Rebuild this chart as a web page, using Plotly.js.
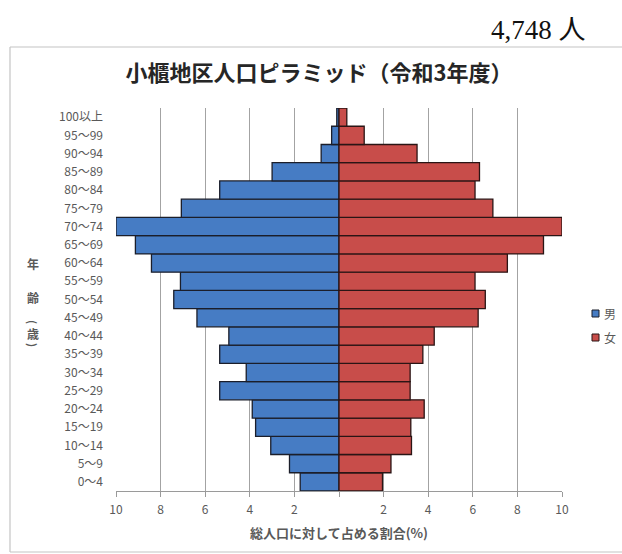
<!DOCTYPE html>
<html>
<head>
<meta charset="utf-8">
<script src="https://cdn.plot.ly/plotly-3.0.1.min.js"></script>
<style>
  html, body { margin: 0; padding: 0; background: #ffffff; overflow: hidden; }
  #chart { width: 622px; height: 554px; }
</style>
</head>
<body>
<div id="chart"></div>
<script>
// Age groups, youngest at the bottom
const ageGroups = ['0～4','5～9','10～14','15～19','20～24','25～29','30～34','35～39','40～44','45～49',
                   '50～54','55～59','60～64','65～69','70～74','75～79','80～84','85～89','90～94','95～99','100以上'];
// Share of population (%) per age group
const malePct   = [1.74, 2.22, 3.06, 3.74, 3.89, 5.35, 4.16, 5.35, 4.94, 6.37,
                   7.41, 7.11, 8.41, 9.13, 10.0, 7.07, 5.35, 3.00, 0.80, 0.33, 0.10];
const femalePct = [1.95, 2.33, 3.25, 3.22, 3.82, 3.19, 3.19, 3.76, 4.27, 6.24,
                   6.56, 6.10, 7.55, 9.17, 10.0, 6.90, 6.10, 6.30, 3.50, 1.13, 0.35];
const xTickVals = [-10, -8, -6, -4, -2, 0, 2, 4, 6, 8, 10];
const xTickText = ['10', '8', '6', '4', '2', '', '2', '4', '6', '8', '10'];
const seriesNames = ['男', '女'];
const totalLabel = '4,748 人';

const BLUE = 'rgb(70,124,196)';
const RED = 'rgb(200,77,74)';
const GREY = '#595959';
const FONT = '"Noto Sans CJK JP", "Noto Sans", sans-serif';

// plot box in pixels, used to place the side texts in paper units
const L = 116, R = 60, T = 108, B = 63, W = 622, H = 554;
const pw = W - L - R, ph = H - T - B;
const px = x => (x - L) / pw;
const py = y => (H - B - y) / ph;

const traces = [
  {
    type: 'bar', orientation: 'h', name: seriesNames[0],
    y: ageGroups, x: malePct.map(v => -v), customdata: malePct,
    hovertemplate: '%{y}: %{customdata}%<extra>男</extra>',
    marker: { color: BLUE, line: { color: '#1b1e2a', width: 1.3 } },
    showlegend: false
  },
  {
    type: 'bar', orientation: 'h', name: seriesNames[1],
    y: ageGroups, x: femalePct,
    hovertemplate: '%{y}: %{x}%<extra>女</extra>',
    marker: { color: RED, line: { color: '#2a1515', width: 1.3 } },
    showlegend: false
  }
];

const ann = (text, x, y, opts) => Object.assign({
  text, xref: 'paper', yref: 'paper', x: px(x), y: py(y),
  showarrow: false, xanchor: 'center', yanchor: 'middle',
  font: { family: FONT, size: 12, color: GREY }
}, opts || {});

const frameLine = (x0, y0, x1, y1) => ({
  type: 'line', xref: 'paper', yref: 'paper', layer: 'below',
  x0: px(x0), y0: py(y0), x1: px(x1), y1: py(y1),
  line: { color: '#c4c4c4', width: 1.2 }
});

const layout = {
  width: W, height: H,
  margin: { l: L, r: R, t: T, b: B, pad: 0 },
  paper_bgcolor: '#ffffff', plot_bgcolor: '#ffffff',
  barmode: 'overlay', bargap: 0,
  font: { family: FONT, size: 12, color: GREY },
  title: {
    text: '<b>小櫃地区人口ピラミッド（令和3年度）</b>',
    font: { family: FONT, size: 22, color: '#262626' },
    xref: 'paper', x: px(319), xanchor: 'center',
    yref: 'container', y: 1 - 73 / H, yanchor: 'middle'
  },
  xaxis: {
    range: [-10, 10], fixedrange: true,
    tickmode: 'array', tickvals: xTickVals, ticktext: xTickText,
    ticks: 'outside', ticklen: 5, tickcolor: '#9a9a9a', tickwidth: 1,
    ticklabelstandoff: 3,
    showline: true, linecolor: '#9a9a9a', linewidth: 1,
    showgrid: true, gridcolor: '#a3a3a3', gridwidth: 1.3, zeroline: false,
    tickfont: { family: FONT, size: 12, color: GREY },
    title: { text: '<b>総人口に対して占める割合(%)</b>', standoff: 12,
             font: { family: FONT, size: 13, color: GREY } }
  },
  yaxis: {
    type: 'category', categoryorder: 'array', categoryarray: ageGroups,
    range: [-0.5, ageGroups.length - 0.5], fixedrange: true,
    showgrid: false, zeroline: false, showline: false, ticks: '',
    ticklabelstandoff: 12,
    tickfont: { family: FONT, size: 12, color: GREY }
  },
  shapes: [
    // outer chart frame: top, left and bottom edges
    frameLine(10, 47, 622, 47),
    frameLine(10, 47, 10, 552),
    frameLine(10, 552, 622, 552),
    // legend keys
    { type: 'rect', xref: 'paper', yref: 'paper',
      x0: px(592), x1: px(599), y0: py(317), y1: py(310),
      line: { color: '#1b1e2a', width: 1 }, fillcolor: BLUE },
    { type: 'rect', xref: 'paper', yref: 'paper',
      x0: px(592), x1: px(599), y0: py(341), y1: py(334),
      line: { color: '#2a1515', width: 1 }, fillcolor: RED }
  ],
  annotations: [
    ann(totalLabel, 538, 30, { font: { family: '"Liberation Serif", "Noto Sans CJK JP", serif', size: 27, color: '#111111' } }),
    ann(seriesNames[0], 602, 313.5, { xanchor: 'left' }),
    ann(seriesNames[1], 602, 337.5, { xanchor: 'left' }),
    // vertical axis caption 年齢（歳）
    ann('<b>年</b>', 33, 263),
    ann('<b>齢</b>', 33, 297),
    ann('<b>(</b>', 33, 322, { textangle: 90, font: { family: FONT, size: 11, color: GREY } }),
    ann('<b>歳</b>', 33, 333),
    ann('<b>)</b>', 33, 345, { textangle: 90, font: { family: FONT, size: 11, color: GREY } })
  ]
};

Plotly.newPlot('chart', traces, layout, { displayModeBar: false, staticPlot: true });
</script>
</body>
</html>
